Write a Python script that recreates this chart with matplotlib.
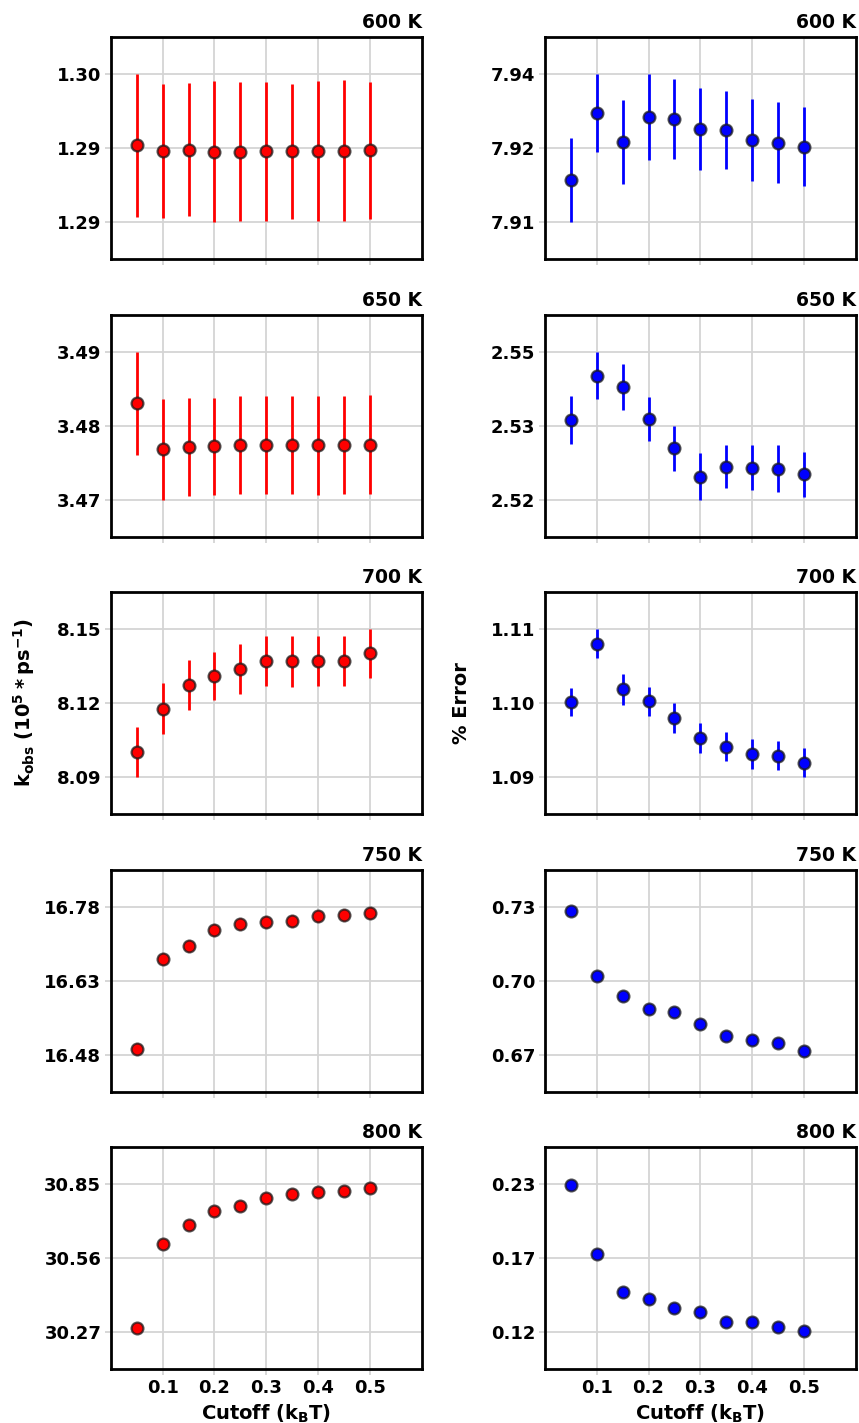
import numpy as np
import matplotlib
matplotlib.use('Agg')
import matplotlib.pyplot as plt
from matplotlib.ticker import FormatStrFormatter

# ======================== Data ========================
cutoff = [0.05, 0.10, 0.15, 0.20, 0.25, 0.30, 0.35, 0.40, 0.45, 0.50]
temps = ['600 K', '650 K', '700 K', '750 K', '800 K']

# k_obs (left column) and its error bars
k_600 = [1.29095, 1.29058, 1.29067, 1.29054, 1.29054, 1.29056, 1.29056, 1.29058, 1.29060, 1.29063]
k_600_err = [0.00462, 0.00435, 0.00427, 0.00454, 0.00450, 0.00448, 0.00436, 0.00451, 0.00454, 0.00443]
k_650 = [3.48302, 3.47680, 3.47707, 3.47721, 3.47734, 3.47739, 3.47739, 3.47734, 3.47739, 3.47743]
k_650_err = [0.00692, 0.00680, 0.00658, 0.00649, 0.00660, 0.00660, 0.00658, 0.00667, 0.00660, 0.00669]
k_700 = [8.10002, 8.11762, 8.12724, 8.13089, 8.13373, 8.13685, 8.13685, 8.13698, 8.13698, 8.14010]
k_700_err = [0.01002, 0.01022, 0.01022, 0.00988, 0.01016, 0.01009, 0.01036, 0.01002, 0.01000, 0.00995]
k_750 = [16.4921, 16.6742, 16.7005, 16.7315, 16.7443, 16.7490, 16.7497, 16.7598, 16.7632, 16.7672]
k_750_err = [0.012, 0.012, 0.012, 0.012, 0.012, 0.012, 0.012, 0.012, 0.012, 0.012]
k_800 = [30.2870, 30.6130, 30.6876, 30.7426, 30.7635, 30.7949, 30.8080, 30.8172, 30.8224, 30.8329]
k_800_err = [0.017, 0.017, 0.017, 0.017, 0.017, 0.017, 0.017, 0.017, 0.017, 0.017]

# % error (right column) and its error bars
e_600 = [7.91846, 7.93175, 7.92604, 7.93108, 7.93054, 7.92859, 7.92846, 7.92638, 7.92591, 7.92510]
e_600_err = [0.00842, 0.00782, 0.00832, 0.00862, 0.00799, 0.00816, 0.00779, 0.00819, 0.00816, 0.00792]
e_650 = [2.53575, 2.54465, 2.54239, 2.53601, 2.53017, 2.52458, 2.52651, 2.52638, 2.52618, 2.52505]
e_650_err = [0.00475, 0.00475, 0.00448, 0.00439, 0.00439, 0.00465, 0.00429, 0.00448, 0.00468, 0.00445]
e_700 = [1.10007, 1.10797, 1.10183, 1.10020, 1.09795, 1.09528, 1.09411, 1.09312, 1.09284, 1.09194]
e_700_err = [0.00192, 0.00201, 0.00210, 0.00196, 0.00203, 0.00205, 0.00196, 0.00199, 0.00196, 0.00192]
e_750 = [0.72810, 0.70181, 0.69359, 0.68833, 0.68712, 0.68254, 0.67755, 0.67580, 0.67458, 0.67162]
e_750_err = [0.0017, 0.0017, 0.0017, 0.0017, 0.0017, 0.0017, 0.0017, 0.0017, 0.0017, 0.0017]
e_800 = [0.22775, 0.17732, 0.14927, 0.14386, 0.13771, 0.13476, 0.12689, 0.12689, 0.12369, 0.12098]
e_800_err = [0.0011, 0.0011, 0.0011, 0.0011, 0.0011, 0.0011, 0.0011, 0.0011, 0.0011, 0.0011]

k_all = [(k_600, k_600_err), (k_650, k_650_err), (k_700, k_700_err), (k_750, k_750_err), (k_800, k_800_err)]
e_all = [(e_600, e_600_err), (e_650, e_650_err), (e_700, e_700_err), (e_750, e_750_err), (e_800, e_800_err)]

plt.rcParams['font.weight'] = 'bold'
plt.rcParams['font.size'] = 13

fig = plt.figure(figsize=(8.59, 14.23), dpi=100)

left_x = [0.1292, 0.6345]
width = 0.3615
height = 0.1563
bottoms = [0.8180, 0.6226, 0.4280, 0.2326, 0.0379]


def draw_panel(ax, y, err, color, title):
    y = np.array(y)
    err = np.array(err)
    ax.errorbar(cutoff, y, yerr=err, fmt='o', color=color, ecolor=color,
                elinewidth=2, markersize=8.5, markerfacecolor=color,
                markeredgecolor=(0.1, 0.1, 0.1, 0.75), markeredgewidth=1.6, zorder=3)
    lo = (y - err).min()
    hi = (y + err).max()
    pad = 0.25 * (hi - lo)
    ax.set_ylim(lo - pad, hi + pad)
    ax.set_yticks(np.linspace(lo, hi, 3))
    ax.yaxis.set_major_formatter(FormatStrFormatter('%.2f'))
    ax.set_xlim(0, 0.6)
    ax.set_xticks([0.1, 0.2, 0.3, 0.4, 0.5])
    ax.grid(True, color='#d4d4d4', linewidth=1.3)
    ax.set_axisbelow(True)
    ax.tick_params(length=4, color='#d4d4d4', width=1.3, pad=3)
    for s in ax.spines.values():
        s.set_linewidth(2)
        s.set_color('black')
    ax.set_title(title, loc='right', fontweight='bold', fontsize=13.5, pad=6)


for i in range(5):
    axl = fig.add_axes([left_x[0], bottoms[i], width, height])
    axr = fig.add_axes([left_x[1], bottoms[i], width, height])
    draw_panel(axl, k_all[i][0], k_all[i][1], 'red', temps[i])
    draw_panel(axr, e_all[i][0], e_all[i][1], 'blue', temps[i])
    if i < 4:
        axl.set_xticklabels([])
        axr.set_xticklabels([])
    else:
        axl.set_xlabel(r'Cutoff ($\mathbf{k_BT}$)', fontweight='bold', fontsize=14)
        axr.set_xlabel(r'Cutoff ($\mathbf{k_BT}$)', fontweight='bold', fontsize=14)
    if i == 2:
        axl.set_ylabel(r'$\mathbf{k_{obs}\ (10^5 * ps^{-1})}$', fontweight='bold',
                       fontsize=14, labelpad=14)
        axr.set_ylabel('% Error', fontweight='bold', fontsize=14, labelpad=14)

fig.savefig('out.png', dpi=100)
